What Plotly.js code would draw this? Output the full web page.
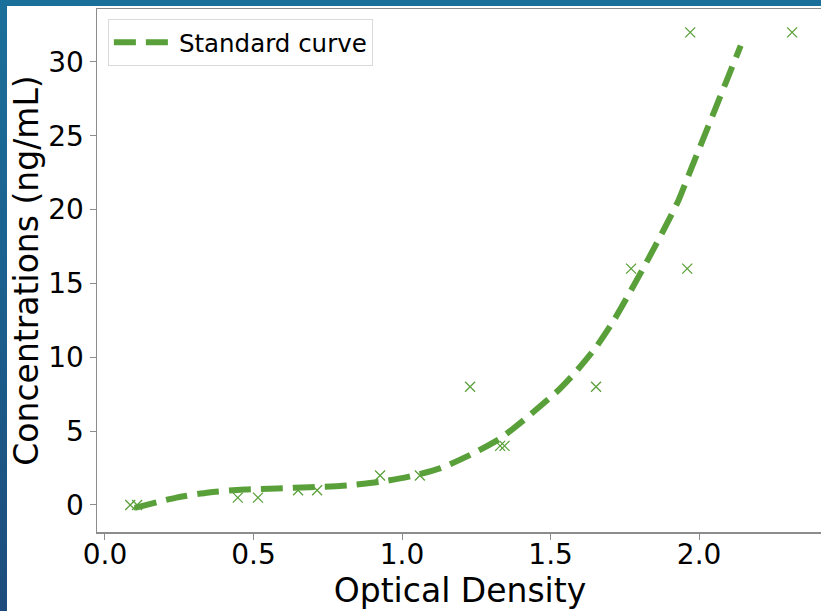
<!DOCTYPE html>
<html>
<head>
<meta charset="utf-8">
<script src="https://cdn.plot.ly/plotly-3.0.1.min.js"></script>
<style>
  html, body { margin: 0; padding: 0; width: 821px; height: 611px; overflow: hidden;
    background: linear-gradient(to bottom, #1b6f9b 0%, #1b5f8d 50%, #1d4c7c 100%); }
  #chart { position: absolute; left: 7px; top: 6px; width: 826px; height: 605px; background: #fff; }
</style>
</head>
<body>
<div id="chart"></div>
<script>
// Measured standards (optical density vs concentration)
const odValues = [0.085, 0.108, 0.447, 0.515, 0.65, 0.714, 0.926, 1.06, 1.229, 1.33, 1.345, 1.653, 1.771, 1.96, 1.97, 2.313];
const concValues = [0, 0, 0.5, 0.5, 1, 1, 2, 2, 8, 4, 4, 8, 16, 16, 32, 32];

// Fitted standard curve
const curveOD = [0.10, 0.24, 0.35, 0.47, 0.58, 0.69, 0.80, 0.92, 1.02, 1.13, 1.23, 1.33, 1.41, 1.52, 1.58, 1.65, 1.71, 1.77, 1.83, 1.88, 1.93, 1.97, 2.01, 2.05, 2.09, 2.14];
const curveConc = [-0.2, 0.5, 0.85, 1.05, 1.12, 1.2, 1.3, 1.55, 1.9, 2.5, 3.4, 4.5, 5.75, 7.65, 8.9, 10.6, 12.4, 14.5, 16.7, 18.6, 20.6, 22.6, 24.6, 26.6, 28.6, 31.1];

const xTickVals = [0, 0.5, 1.0, 1.5, 2.0];
const xTickText = ['0.0', '0.5', '1.0', '1.5', '2.0'];
const yTickVals = [0, 5, 10, 15, 20, 25, 30];

const green = '#5aa03a';
const font = 'DejaVu Sans, sans-serif';

const traces = [
  {
    x: odValues, y: concValues, type: 'scatter', mode: 'markers', showlegend: false,
    marker: { symbol: 'x-thin', size: 10, color: green, line: { color: green, width: 1.3 } }
  },
  {
    x: curveOD, y: curveConc, type: 'scatter', mode: 'lines', name: 'Standard curve',
    line: { color: green, width: 6, dash: '22px,10px', shape: 'spline', smoothing: 0.6 }
  }
];

const layout = {
  width: 826, height: 605,
  margin: { l: 90, r: 10, t: 3, b: 79 },
  paper_bgcolor: '#ffffff', plot_bgcolor: '#ffffff',
  font: { family: font, color: '#000' },
  showlegend: true,
  legend: {
    x: 0.015, y: 0.981, xanchor: 'left', yanchor: 'top',
    itemwidth: 60,
    bgcolor: 'rgba(255,255,255,0.8)', bordercolor: '#d9d9d9', borderwidth: 1,
    font: { family: font, size: 24.5, color: '#000' }
  },
  xaxis: {
    range: [-0.0269, 2.417], tickvals: xTickVals, ticktext: xTickText,
    showgrid: false, zeroline: false, showline: true, mirror: true,
    linecolor: '#8c8c8c', linewidth: 1.5, ticks: 'outside', ticklen: 6, tickcolor: '#8c8c8c',
    ticklabelstandoff: -9,
    tickfont: { family: font, size: 28, color: '#000' },
    title: { text: 'Optical Density', font: { family: font, size: 33, color: '#000' }, standoff: 0 }
  },
  yaxis: {
    range: [-1.83, 33.58], tickvals: yTickVals,
    showgrid: false, zeroline: false, showline: true, mirror: true,
    linecolor: '#8c8c8c', linewidth: 1.5, ticks: 'outside', ticklen: 6, tickcolor: '#8c8c8c',
    tickfont: { family: font, size: 28, color: '#000' },
    title: { text: 'Concentrations (ng/mL)', font: { family: font, size: 33, color: '#000' }, standoff: 0 }
  }
};

Plotly.newPlot('chart', traces, layout, { displayModeBar: false, staticPlot: true });
</script>
</body>
</html>
